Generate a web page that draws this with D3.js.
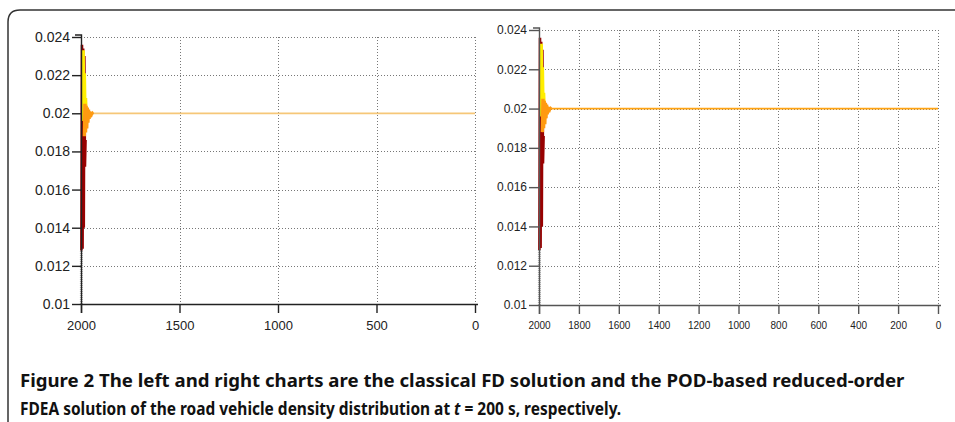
<!DOCTYPE html>
<html>
<head>
<meta charset="utf-8">
<script src="https://cdn.jsdelivr.net/npm/d3@7"></script>
<style>
  body { margin: 0; background: #fff; }
  svg { display: block; }
</style>
</head>
<body>
<div id="chart"></div>
<script>
// tick values
var yTicks = [0.01, 0.012, 0.014, 0.016, 0.018, 0.02, 0.022, 0.024];
var leftXTicks = [2000, 1500, 1000, 500, 0];
var rightXTicks = [2000, 1800, 1600, 1400, 1200, 1000, 800, 600, 400, 200, 0];

// density near the inflow boundary (distance along road, density)
var grayDist = [1998, 1998];
var grayVal = [0.01, 0.0128];
var darkRedDist = [1998, 1995, 1992, 1989, 1986, 1983, 1980, 1977];
var darkRedVal = [0.0128, 0.0236, 0.0129, 0.0234, 0.0140, 0.0230, 0.0172, 0.0186];
var yellowDist = [1992, 1989, 1986, 1983, 1980, 1977, 1974, 1971];
var yellowVal = [0.0233, 0.0196, 0.0233, 0.0199, 0.0221, 0.0201, 0.0208, 0.0200];
var orangeDist = [1986, 1983, 1980, 1977, 1974, 1971, 1968, 1965, 1962, 1959, 1956, 1953, 1950, 1947, 1944, 1941, 1938, 1935];
var orangeVal = [0.0188, 0.0205, 0.0188, 0.0205, 0.0190, 0.0204, 0.0192, 0.0203, 0.0195, 0.0202, 0.0197, 0.0201, 0.0198, 0.02008, 0.01995, 0.02003, 0.02, 0.02];
var steadyDist = [1935, 0];
var steadyVal = [0.02, 0.02];

var W = 955, H = 422;

var svg = d3.select("#chart")
  .append("svg")
  .attr("width", W)
  .attr("height", H);

// frame round the figure (top and left edges, rounded corner)
svg.append("path")
  .attr("d", "M8,422 L8,22 Q8,10 20,10 L955,10")
  .attr("fill", "none")
  .attr("stroke", "#333")
  .attr("stroke-width", 1.5);

function zip(xs, ys) {
  return xs.map(function(d, i) { return [d, ys[i]]; });
}

function panel(opt) {
  var x = d3.scaleLinear().domain([2000, 0]).range([opt.x0, opt.x1]);
  var y = d3.scaleLinear().domain([0.01, 0.024]).range([opt.y0, opt.y1]);
  var g = svg.append("g");

  // dotted grid
  g.selectAll(".hg")
    .data(yTicks.slice(1))
    .enter().append("line")
    .attr("x1", opt.x0).attr("x2", opt.x1)
    .attr("y1", function(d) { return Math.round(y(d)) + 0.5; })
    .attr("y2", function(d) { return Math.round(y(d)) + 0.5; })
    .attr("stroke", "#777")
    .attr("stroke-dasharray", "1,2");
  g.selectAll(".vg")
    .data(opt.ticks.slice(1))
    .enter().append("line")
    .attr("x1", function(d) { return Math.round(x(d)) + 0.5; })
    .attr("x2", function(d) { return Math.round(x(d)) + 0.5; })
    .attr("y1", opt.y1).attr("y2", opt.y0)
    .attr("stroke", "#777")
    .attr("stroke-dasharray", "1,2");

  var line = d3.line()
    .x(function(d) { return x(d[0]); })
    .y(function(d) { return y(d[1]); });

  var series = [
    { pts: zip(grayDist, grayVal), color: "#b8b8b8", w: 3, dash: "1,1" },
    { pts: zip(darkRedDist, darkRedVal), color: "#980000", w: 2.6 },
    { pts: zip(yellowDist, yellowVal), color: "#ffee00", w: 2.2 },
    { pts: zip(orangeDist, orangeVal), color: "#ff9a10", w: 2.2 },
    { pts: zip(steadyDist, steadyVal), color: opt.steady, w: 1.8 }
  ];
  series.forEach(function(s) {
    g.append("path")
      .datum(s.pts)
      .attr("d", line)
      .attr("fill", "none")
      .attr("stroke", s.color)
      .attr("stroke-width", s.w)
      .attr("stroke-dasharray", s.dash || null);
  });

  // axes
  var ax = g.append("g")
    .attr("transform", "translate(0," + opt.y0 + ")")
    .call(d3.axisBottom(x).tickValues(opt.ticks).tickSize(9).tickPadding(8).tickFormat(d3.format("d")));
  ax.select(".domain").attr("d", "M" + opt.x0 + ",0.5H" + (opt.x1 + 3));
  ax.selectAll("text").style("font-size", opt.xfs + "px");

  var ay = g.append("g")
    .attr("transform", "translate(" + opt.x0 + ",0)")
    .call(d3.axisLeft(y).tickValues(yTicks).tickSize(opt.ytick).tickPadding(2).tickFormat(d3.format("")));
  ay.select(".domain").attr("d", "M0.5," + (opt.y0 + 9) + "V" + (opt.y1 - 2) + "H-6");
  ay.selectAll("text").style("font-size", opt.yfs + "px");

  g.selectAll(".domain, .tick line").attr("stroke", opt.axis).attr("stroke-width", 1.4);
  g.selectAll(".tick text")
    .attr("fill", "#222")
    .style("font-family", "'Liberation Sans', Arial, sans-serif");
}

panel({ x0: 81, x1: 475, y0: 304, y1: 37, ticks: leftXTicks, steady: "#f6c778",
        axis: "#222", xfs: 13, yfs: 14, ytick: 9 });
panel({ x0: 539, x1: 938, y0: 305, y1: 30, ticks: rightXTicks, steady: "#ffa312",
        axis: "#555", xfs: 10, yfs: 12, ytick: 10 });

// caption
var cap = svg.append("g")
  .style("font-family", "'Noto Sans', 'Open Sans', sans-serif")
  .style("font-weight", "bold")
  .style("font-size", "18px")
  .style("white-space", "pre")
  .attr("fill", "#111");

var l1 = cap.append("text").attr("x", 20).attr("y", 387)
  .text("Figure 2  The left and right charts are the classical FD solution and the POD-based reduced-order");
var l2 = cap.append("text").attr("x", 20).attr("y", 415);
l2.append("tspan").text("FDEA solution of the road vehicle density distribution at ");
l2.append("tspan").style("font-style", "italic").text("t");
l2.append("tspan").text(" = 200 s, respectively.");

// squeeze each line to the width it has in the figure
[[l1, 885], [l2, 602]].forEach(function(p) {
  var w = p[0].node().getComputedTextLength();
  var s = p[1] / w;
  p[0].attr("transform", "translate(20,0) scale(" + s + ",1) translate(-20,0)");
});
</script>
</body>
</html>
